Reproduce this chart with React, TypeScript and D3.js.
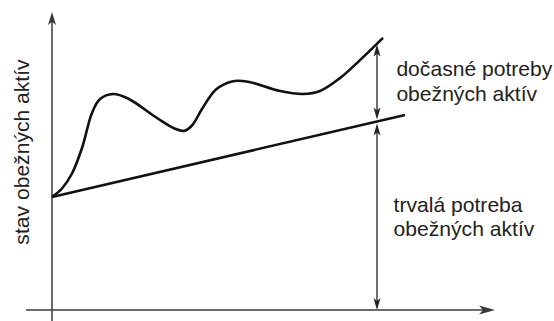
import React from "react";
import * as d3 from "d3";

// time (0..100) and value (0..100) units
const curveX = [0, 2.5, 5, 7.5, 10, 12, 15.25, 19, 26.25, 30.5, 33, 35, 37.5, 41, 45, 49, 57, 62.75, 67, 72, 77, 82.75];
const curveY = [37.7, 40.5, 45.5, 54, 65.7, 70.3, 72, 70.5, 64, 60.6, 59.7, 61.5, 67, 73.5, 76.2, 76.1, 73, 72, 73, 77.3, 83.3, 90.7];
const trendX = [0, 88.25];
const trendY = [37.7, 65];
const markerX = 81.25;
const markerTop = 88.5;
const labels = [
  { lines: ["dočasné potreby", "obežných aktív"], x: 86.1, y: 78 },
  { lines: ["trvalá potreba", "obežných aktív"], x: 85.4, y: 32.7 },
];
const yTitle = "stav obežných aktív";

const W = 554, H = 321;

export default function App() {
  const x = d3.scaleLinear().domain([0, 100]).range([52, 452]);
  const y = d3.scaleLinear().domain([0, 100]).range([310, 10]);
  const curvePts = curveX.map((v, i) => [x(v), y(curveY[i])] as [number, number]);
  const curvePath = d3.line().curve(d3.curveCatmullRom.alpha(0.5))(curvePts) || "";
  const trendPath = d3.line()(trendX.map((v, i) => [x(v), y(trendY[i])] as [number, number])) || "";
  const trendAt = (t: number) => trendY[0] + (trendY[1] - trendY[0]) * (t - trendX[0]) / (trendX[1] - trendX[0]);
  const ax = x(markerX);
  const yTrend = y(trendAt(markerX));
  const axisColor = "#3a3a3a";
  const head = (tx: number, ty: number, dir: "up" | "down" | "right", len: number, hw: number, fill: string) => {
    const back = len * 0.75;
    let pts: [number, number][];
    if (dir === "up") pts = [[tx, ty], [tx - hw, ty + len], [tx, ty + back], [tx + hw, ty + len]];
    else if (dir === "down") pts = [[tx, ty], [tx - hw, ty - len], [tx, ty - back], [tx + hw, ty - len]];
    else pts = [[tx, ty], [tx - len, ty - hw], [tx - back, ty], [tx - len, ty + hw]];
    return <path d={"M" + pts.map(p => p.join(",")).join("L") + "Z"} fill={fill} />;
  };
  return (
    <svg width={W} height={H} style={{ position: "absolute", left: 0, top: 0 }}
      fontFamily="'Liberation Sans', Arial, sans-serif">
      <rect width={W} height={H} fill="#fff" />
      {/* axes */}
      <line x1={x(0)} x2={x(0)} y1={321} y2={20} stroke={axisColor} strokeWidth={1.5} />
      {head(x(0), 12, "up", 13, 4, axisColor)}
      <line x1={26} x2={485} y1={y(0)} y2={y(0)} stroke={axisColor} strokeWidth={1.5} />
      {head(495, y(0), "right", 16, 4.5, axisColor)}
      {/* series */}
      <path d={curvePath} fill="none" stroke="#111" strokeWidth={2.6} strokeLinejoin="round" />
      <path d={trendPath} fill="none" stroke="#111" strokeWidth={2.6} />
      {/* dimension arrows */}
      <line x1={ax} x2={ax} y1={y(markerTop) + 8} y2={yTrend - 8} stroke="#222" strokeWidth={1.3} />
      {head(ax, y(markerTop), "up", 12, 3.5, "#222")}
      {head(ax, yTrend - 2, "down", 12, 3.5, "#222")}
      <line x1={ax} x2={ax} y1={yTrend + 8} y2={y(0) - 8} stroke="#222" strokeWidth={1.3} />
      {head(ax, yTrend + 2, "up", 12, 3.5, "#222")}
      {head(ax, y(0), "down", 12, 3.5, "#222")}
      {/* labels */}
      {labels.map((l, i) => (
        <text key={i} x={x(l.x)} y={y(l.y)} fontSize={21.1} fill="#222">
          {l.lines.map((s, j) => (
            <tspan key={j} x={x(l.x)} dy={j === 0 ? 0 : 24.5}>{s}</tspan>
          ))}
        </text>
      ))}
      <text transform={`translate(29,152) rotate(-90)`} textAnchor="middle" fontSize={21.1} fill="#222">{yTitle}</text>
    </svg>
  );
}
